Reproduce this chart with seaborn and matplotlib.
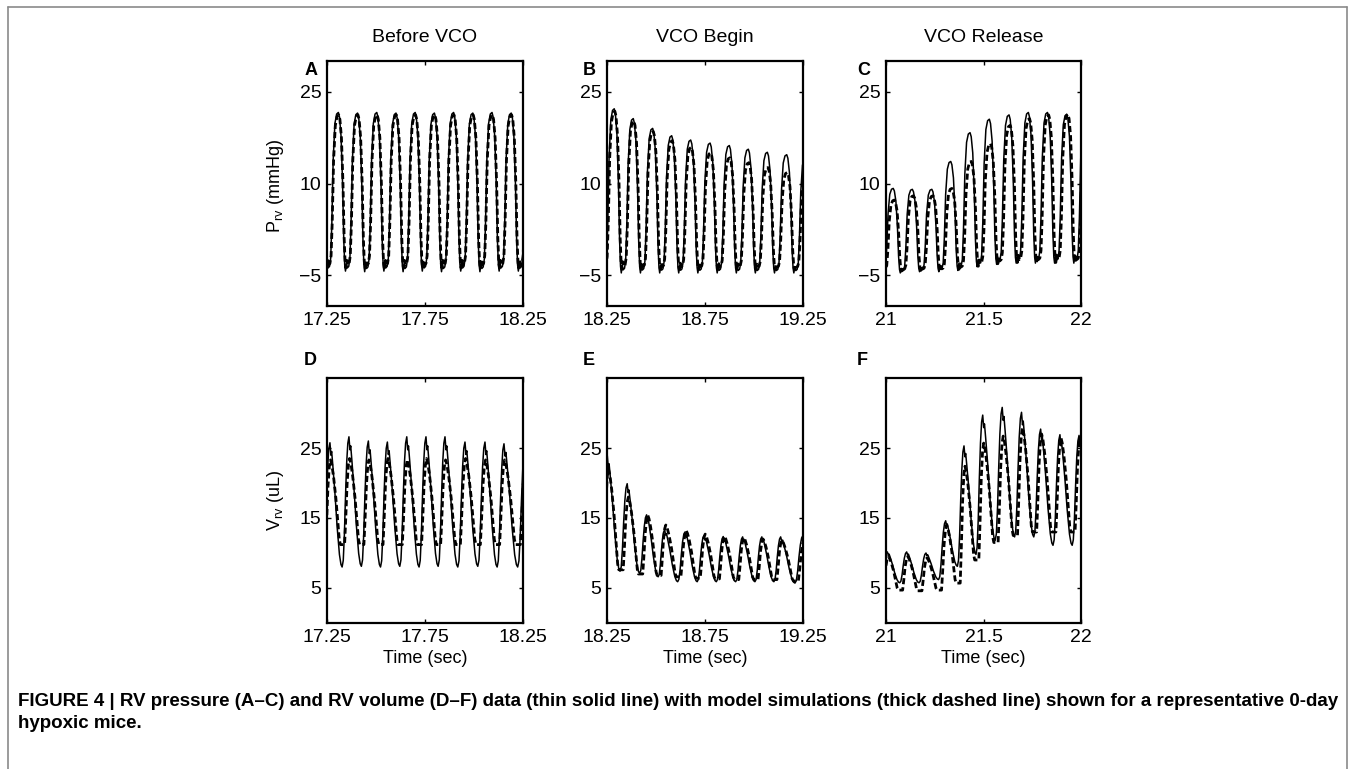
import numpy as np
import pandas as pd
import seaborn as sns
import matplotlib.pyplot as plt
from matplotlib.lines import Line2D
from matplotlib import font_manager

# Each trace is stored beat by beat:
# peak times (sec), the peak value of each beat and the trough that follows it.
# First/last entries are the partly visible beats at the panel edges.

# A: RV pressure, before VCO
a_t = [17.210, 17.308, 17.406, 17.504, 17.602, 17.700, 17.798, 17.896, 17.994, 18.092, 18.190, 18.288]
a_data_pk = [21.5, 21.6, 21.5, 21.6, 21.5, 21.6, 21.5, 21.6, 21.5, 21.6, 21.5, 21.5]
a_data_tr = [-4.3, -4.3, -4.4, -4.3, -4.4, -4.3, -4.4, -4.3, -4.4, -4.3, -4.3, -4.3]
a_model_pk = [21.2, 21.2, 21.2, 21.2, 21.2, 21.2, 21.2, 21.2, 21.2, 21.2, 21.2, 21.2]
a_model_tr = [-3.8, -3.8, -3.8, -3.8, -3.8, -3.8, -3.8, -3.8, -3.8, -3.8, -3.8, -3.8]

# B: RV pressure, VCO begin
b_t = [18.189, 18.287, 18.384, 18.483, 18.580, 18.677, 18.776, 18.874, 18.971, 19.068, 19.167, 19.265]
b_data_pk = [23.0, 22.2, 20.6, 19.0, 17.8, 17.1, 16.6, 16.2, 15.6, 15.1, 14.7, 14.3]
b_data_tr = [-4.6, -4.6, -4.6, -4.6, -4.6, -4.6, -4.6, -4.6, -4.6, -4.6, -4.6, -4.6]
b_model_pk = [22.5, 21.8, 20.2, 18.5, 17.0, 15.9, 15.0, 14.2, 13.4, 12.6, 11.8, 11.3]
b_model_tr = [-4.0, -4.0, -4.0, -4.0, -4.0, -4.0, -4.0, -4.0, -4.0, -4.0, -4.0, -4.0]

# C: RV pressure, VCO release
c_t = [20.939, 21.037, 21.135, 21.235, 21.332, 21.431, 21.530, 21.631, 21.730, 21.828, 21.927, 22.025]
c_data_pk = [9.2, 9.2, 9.05, 9.05, 13.6, 18.3, 20.5, 21.2, 21.6, 21.6, 21.3, 21.3]
c_data_tr = [-4.6, -4.6, -4.4, -4.4, -4.2, -3.6, -3.2, -3.0, -3.0, -3.0, -3.0, -3.0]
c_model_pk = [7.5, 7.3, 8.0, 8.0, 9.2, 13.6, 16.5, 19.5, 20.6, 21.2, 21.3, 21.3]
c_model_tr = [-4.3, -4.3, -4.2, -4.2, -4.0, -3.5, -3.1, -2.9, -2.9, -2.9, -2.9, -2.9]

# D: RV volume, before VCO
d_t = [17.167, 17.265, 17.362, 17.461, 17.558, 17.657, 17.755, 17.852, 17.954, 18.056, 18.153, 18.262]
d_data_pk = [25.5, 25.75, 26.6, 26.0, 25.85, 26.6, 26.6, 26.6, 25.85, 25.85, 25.6, 25.6]
d_data_tr = [8.0, 8.0, 8.1, 8.0, 8.1, 8.0, 8.1, 8.0, 8.1, 8.0, 8.0, 8.0]
d_model_pk = [23.3, 23.3, 23.5, 23.3, 23.5, 23.3, 23.5, 23.3, 23.5, 23.3, 23.3, 23.3]
d_model_tr = [11.2, 11.2, 11.2, 11.2, 11.2, 11.2, 11.2, 11.2, 11.2, 11.2, 11.2, 11.2]

# E: RV volume, VCO begin
e_t = [18.154, 18.2515, 18.353, 18.452, 18.544, 18.648, 18.745, 18.843, 18.942, 19.040, 19.136, 19.250]
e_data_pk = [24.5, 23.9, 19.9, 15.45, 13.3, 13.0, 12.5, 12.35, 12.3, 12.3, 12.3, 12.5]
e_data_tr = [7.6, 7.4, 7.1, 6.6, 5.9, 5.9, 5.9, 5.9, 5.9, 5.9, 5.7, 5.7]
e_model_pk = [24.0, 22.0, 18.0, 15.4, 14.0, 13.2, 12.7, 12.4, 12.2, 12.0, 11.8, 11.8]
e_model_tr = [7.6, 7.6, 7.0, 6.8, 6.6, 6.4, 6.3, 6.2, 6.2, 6.2, 6.0, 6.0]

# F: RV volume, VCO release
f_t = [20.908, 21.007, 21.106, 21.205, 21.306, 21.400, 21.496, 21.596, 21.695, 21.793, 21.892, 21.990, 22.088]
f_data_pk = [10.2, 10.15, 10.15, 10.0, 14.6, 25.3, 29.7, 30.8, 30.1, 27.7, 26.9, 26.8, 26.8]
f_data_tr = [5.8, 5.75, 5.75, 6.2, 8.1, 9.8, 11.8, 12.3, 12.3, 11.1, 11.1, 11.1, 11.1]
f_model_pk = [9.5, 9.5, 9.5, 9.3, 14.0, 22.4, 25.7, 26.7, 27.9, 27.0, 26.5, 26.5, 26.5]
f_model_tr = [4.7, 4.7, 4.6, 4.7, 5.7, 9.0, 11.5, 12.5, 13.0, 13.0, 13.0, 13.0, 13.0]

model_lag = [0.002, 0.003, 0.006, 0.003, 0.006, 0.005]

col_titles = ['Before VCO', 'VCO Begin', 'VCO Release']
panel_letters = ['A', 'B', 'C', 'D', 'E', 'F']
x_ranges = [(17.25, 18.25), (18.25, 19.25), (21.0, 22.0)]
x_tick_labels = [['17.25', '17.75', '18.25'], ['18.25', '18.75', '19.25'], ['21', '21.5', '22']]
p_ticks = [-5, 10, 25]
v_ticks = [5, 15, 25]

# shape of one beat between two successive peaks (phase 0..1, fraction of amplitude)
p_shape = ([0, .06, .14, .22, .28, .33, .37, .42, .47, .54, .60, .66, .73, .82, .91, 1],
           [1, .97, .85, .55, .20, .04, 0, .05, .02, .03, .08, .30, .70, .93, .99, 1], .37)
v_data_shape = ([0, .05, .09, .15, .26, .38, .50, .58, .64, .70, .76, .82, .88, .94, 1],
                [1, .90, .93, .82, .60, .32, .10, .02, 0, .05, .25, .55, .80, .95, 1], .64)
v_model_shape = ([0, .07, .16, .28, .38, .46, .52, .74, .80, .87, .94, 1],
                 [1, .94, .80, .55, .28, .06, 0, 0, .30, .70, .93, 1], .52)


def trace(times, peaks, troughs, shape, lag=0.0):
    phase, frac, split = shape
    tt, vv = [], []
    for i in range(len(times) - 1):
        t0, t1 = times[i], times[i + 1]
        for ph, f in zip(phase[:-1], frac[:-1]):
            top = peaks[i] if ph <= split else peaks[i + 1]
            tt.append(t0 + ph * (t1 - t0) + lag)
            vv.append(troughs[i] + f * (top - troughs[i]))
    tt.append(times[-1] + lag)
    vv.append(peaks[-1])
    return pd.DataFrame({'t': tt, 'v': vv})


sns.set_theme(style='ticks')
names = {f.name for f in font_manager.fontManager.ttflist}
plt.rcParams['font.family'] = ['Liberation Sans', 'DejaVu Sans']
plt.rcParams['mathtext.fontset'] = 'custom'
plt.rcParams['mathtext.rm'] = 'Liberation Sans'
plt.rcParams['xtick.direction'] = 'in'
plt.rcParams['ytick.direction'] = 'in'
for key in ['text.color', 'axes.labelcolor', 'xtick.color', 'ytick.color']:
    plt.rcParams[key] = 'black'
cap_font = 'Liberation Sans Narrow' if 'Liberation Sans Narrow' in names else 'Liberation Sans'

fig = plt.figure(figsize=(13.55, 7.69), dpi=100)
lefts = [327, 607, 886]
widths = [196, 196, 195]
tops = [61, 378]

panels = [
    (a_t, a_data_pk, a_data_tr, a_model_pk, a_model_tr),
    (b_t, b_data_pk, b_data_tr, b_model_pk, b_model_tr),
    (c_t, c_data_pk, c_data_tr, c_model_pk, c_model_tr),
    (d_t, d_data_pk, d_data_tr, d_model_pk, d_model_tr),
    (e_t, e_data_pk, e_data_tr, e_model_pk, e_model_tr),
    (f_t, f_data_pk, f_data_tr, f_model_pk, f_model_tr),
]
letter_dx = [-0.117, -0.122, -0.148]

for k, (tm, dpk, dtr, mpk, mtr) in enumerate(panels):
    row, col = divmod(k, 3)
    W, H = 1355, 769
    ax = fig.add_axes([lefts[col] / W, (H - tops[row] - 245) / H, widths[col] / W, 245 / H])
    if row == 0:
        ds = trace(tm, dpk, dtr, p_shape)
        ms = trace(tm, mpk, mtr, p_shape, model_lag[k])
    else:
        ds = trace(tm, dpk, dtr, v_data_shape)
        ms = trace(tm, mpk, mtr, v_model_shape, model_lag[k])
    sns.lineplot(data=ms, x='t', y='v', ax=ax, color='black', lw=2.0, sort=False,
                 estimator=None, linestyle=(0, (2.2, 1.1)))
    sns.lineplot(data=ds, x='t', y='v', ax=ax, color='black', lw=1.1, sort=False,
                 estimator=None)

    x0, x1 = x_ranges[col]
    ax.set_xlim(x0, x1)
    ax.set_xticks([x0, (x0 + x1) / 2, x1])
    ax.set_xticklabels(x_tick_labels[col])
    if row == 0:
        ax.set_ylim(-10, 30)
        ax.set_yticks(p_ticks)
        ax.set_title(col_titles[col], fontsize=14, pad=14)
        ax.set_xlabel('')
    else:
        ax.set_ylim(0, 35)
        ax.set_yticks(v_ticks)
        ax.set_xlabel('Time (sec)', fontsize=13, labelpad=3)
    ax.set_yticklabels([str(v).replace('-', '\u2212') for v in ax.get_yticks()])
    if row == 0 and col == 0:
        ax.set_ylabel(r'P$_{\mathregular{rv}}$ (mmHg)', fontsize=13)
        ax.yaxis.set_label_coords(-0.21, 0.49)
    elif col == 0:
        ax.set_ylabel(r'V$_{\mathregular{rv}}$ (uL)', fontsize=13)
        ax.yaxis.set_label_coords(-0.21, 0.5)
    else:
        ax.set_ylabel('')
    ax.tick_params(axis='both', labelsize=14, length=3, width=1, top=True, right=True, pad=4)
    for s in ax.spines.values():
        s.set_linewidth(1.6)
        s.set_color('black')
    ly = 0.963 if row == 0 else 1.073
    ax.text(letter_dx[col], ly, panel_letters[k], transform=ax.transAxes, fontsize=13,
            fontweight='bold', ha='left', va='center')

# thin frame round the figure
for xs, ys in [([8 / 1355, 1347 / 1355], [1 - 7 / 769] * 2),
               ([8 / 1355] * 2, [0, 1 - 7 / 769]),
               ([1347 / 1355] * 2, [0, 1 - 7 / 769])]:
    fig.add_artist(Line2D(xs, ys, color='#8a8a8a', lw=1.2))

fig.text(18 / 1355, 1 - 701 / 769,
         'FIGURE 4 | RV pressure (A\u2013C) and RV volume (D\u2013F) data (thin solid line) with model '
         'simulations (thick dashed line) shown for a representative 0-day',
         family=[cap_font, 'DejaVu Sans'], fontweight='bold', fontsize=13.5, va='center', ha='left')
fig.text(18 / 1355, 1 - 723 / 769, 'hypoxic mice.',
         family=[cap_font, 'DejaVu Sans'], fontweight='bold', fontsize=13.5, va='center', ha='left')

fig.savefig('out.png', dpi=100)
